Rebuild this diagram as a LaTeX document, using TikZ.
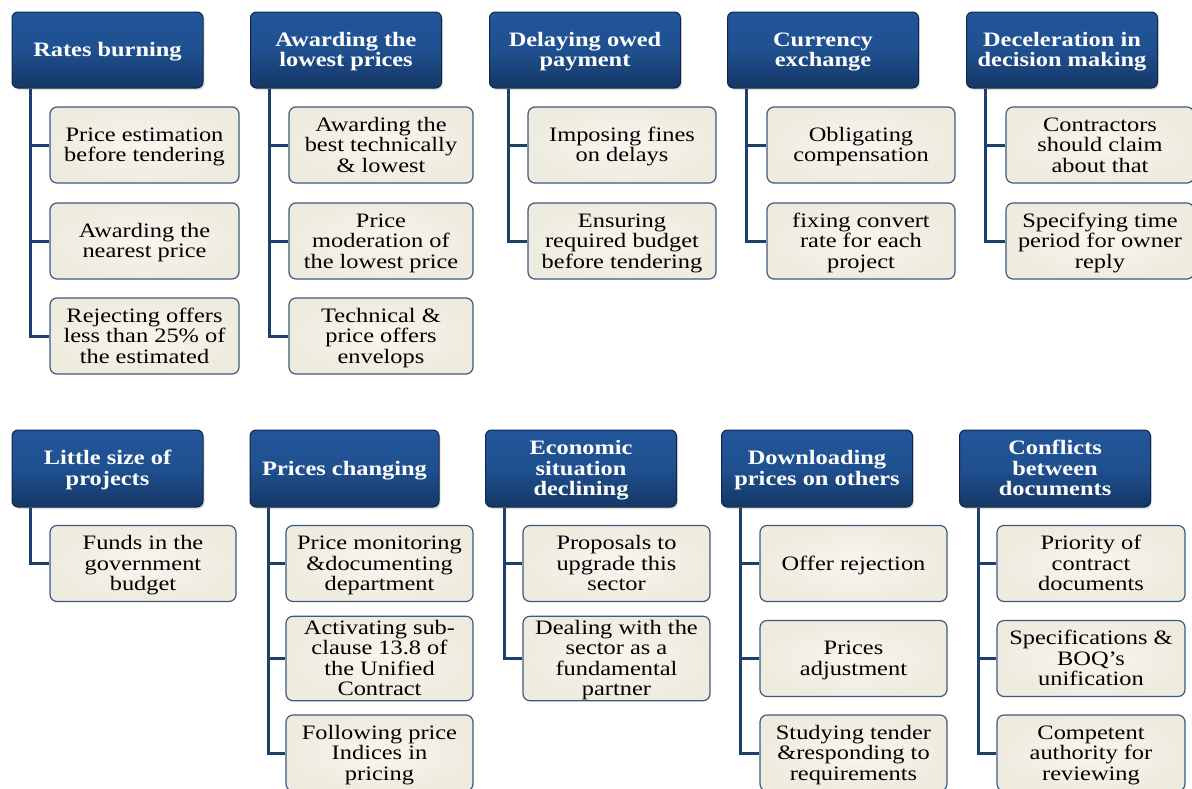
\documentclass[tikz,border=0pt]{standalone}
\usepackage{fontspec}
\setmainfont{Liberation Serif}
\newfontfamily\wfont[FakeStretch=1.19]{Liberation Serif}
\usetikzlibrary{shadows}
\newcommand\tS{\rule[-5pt]{0pt}{23pt}}
\definecolor{hdrtop}{HTML}{22569A}
\definecolor{hdrbot}{HTML}{143765}
\definecolor{hdrborder}{HTML}{0E2748}
\definecolor{chfill}{HTML}{F8F6EE}
\definecolor{chedge}{HTML}{EEEBDF}
\definecolor{chborder}{HTML}{3D5A82}
\definecolor{conncol}{HTML}{1E3F6C}
\tikzset{
  struts/.style={execute at end node={\rule[-5pt]{0pt}{5pt}}},
  hdr/.style={draw=hdrborder, line width=1pt, rounded corners=6pt,
    top color=hdrtop, bottom color=hdrbot, middle color=hdrtop!80!hdrbot,
    minimum width=191pt, minimum height=76pt, inner sep=0pt, struts,
    align=center, text=white, font=\wfont\bfseries\fontsize{20.5}{20.5}\selectfont,
    drop shadow={opacity=0.25, shadow xshift=1.5pt, shadow yshift=-2pt}},
  chbox/.style={draw=chborder, line width=1.2pt, rounded corners=7pt,
    inner color=chfill, outer color=chedge,
    minimum height=76pt, inner sep=0pt, struts,
    align=center, text=black, font=\wfont\fontsize{20.5}{20.5}\selectfont},
  conn/.style={draw=conncol, line width=3pt}
}
\begin{document}
\begin{tikzpicture}[x=1pt,y=-1pt]
\useasboundingbox (0,0) rectangle (1192,788);
\fill[white] (0,0) rectangle (1192,788);
% ---------- top row ----------
\node[hdr] (h1) at (107.5,50) {\tS Rates burning};
\node[hdr] (h2) at (346,50) {\tS Awarding the\\lowest prices};
\node[hdr] (h3) at (585,50) {\tS Delaying owed\\payment};
\node[hdr] (h4) at (823,50) {\tS Currency\\exchange};
\node[hdr] (h5) at (1062,50) {\tS Deceleration in\\decision making};

\node[chbox, minimum width=189pt] (c11) at (144.5,145) {\tS Price estimation\\before tendering};
\node[chbox, minimum width=189pt] (c12) at (144.5,241) {\tS Awarding the\\nearest price};
\node[chbox, minimum width=189pt] (c13) at (144.5,336) {\tS Rejecting offers\\less than 25\% of\\the estimated};

\node[chbox, minimum width=184pt] (c21) at (381,145) {\tS Awarding the\\best technically\\\& lowest};
\node[chbox, minimum width=184pt] (c22) at (381,241) {\tS Price\\moderation of\\the lowest price};
\node[chbox, minimum width=184pt] (c23) at (381,336) {\tS Technical \&\\price offers\\envelops};

\node[chbox, minimum width=188pt] (c31) at (622,145) {\tS Imposing fines\\on delays};
\node[chbox, minimum width=188pt] (c32) at (622,241) {\tS Ensuring\\required budget\\before tendering};

\node[chbox, minimum width=188pt] (c41) at (861,145) {\tS Obligating\\compensation};
\node[chbox, minimum width=188pt] (c42) at (861,241) {\tS fixing convert\\rate for each\\project};

\node[chbox, minimum width=188pt] (c51) at (1100,145) {\tS Contractors\\should claim\\about that};
\node[chbox, minimum width=188pt] (c52) at (1100,241) {\tS Specifying time\\period for owner\\reply};

% ---------- bottom row ----------
\node[hdr, minimum height=77pt] (g1) at (107.5,468.5) {\tS Little size of\\projects};
\node[hdr, minimum height=77pt, minimum width=189pt] (g2) at (344.5,468.5) {\tS Prices changing};
\node[hdr, minimum height=77pt] (g3) at (581,468.5) {\tS Economic\\situation\\declining};
\node[hdr, minimum height=77pt] (g4) at (817,468.5) {\tS Downloading\\prices on others};
\node[hdr, minimum height=77pt] (g5) at (1055,468.5) {\tS Conflicts\\between\\documents};

\node[chbox, minimum width=186pt] (d11) at (143,563.5) {\tS Funds in the\\government\\budget};

\node[chbox, minimum width=187pt] (d21) at (379.5,563.5) {\tS Price monitoring\\\&documenting\\department};
\node[chbox, minimum width=187pt] (d22) at (379.5,658.5) {\tS Activating sub-\\clause 13.8 of\\the Unified\\Contract};
\node[chbox, minimum width=187pt] (d23) at (379.5,753) {\tS Following price\\Indices in\\pricing};

\node[chbox, minimum width=187pt] (d31) at (616.5,563.5) {\tS Proposals to\\upgrade this\\sector};
\node[chbox, minimum width=187pt] (d32) at (616.5,658.5) {\tS Dealing with the\\sector as a\\fundamental\\partner};

\node[chbox, minimum width=187pt] (d41) at (853.5,563.5) {\tS Offer rejection};
\node[chbox, minimum width=187pt] (d42) at (853.5,658.5) {\tS Prices\\adjustment};
\node[chbox, minimum width=187pt] (d43) at (853.5,753) {\tS Studying tender\\\&responding to\\requirements};

\node[chbox, minimum width=188pt] (d51) at (1091,563.5) {\tS Priority of\\contract\\documents};
\node[chbox, minimum width=188pt] (d52) at (1091,658.5) {\tS Specifications \&\\BOQ’s\\unification};
\node[chbox, minimum width=188pt] (d53) at (1091,753) {\tS Competent\\authority for\\reviewing};

% ---------- connectors ----------
\foreach \h/\cs in {h1/{c11,c12,c13}, h2/{c21,c22,c23}, h3/{c31,c32}, h4/{c41,c42}, h5/{c51,c52},
                    g1/{d11}, g2/{d21,d22,d23}, g3/{d31,d32}, g4/{d41,d42,d43}, g5/{d51,d52,d53}}{
  \foreach \c in \cs {
    \draw[conn] ([xshift=19pt]\h.south west) |- (\c.west);
  }
}
\end{tikzpicture}
\end{document}
